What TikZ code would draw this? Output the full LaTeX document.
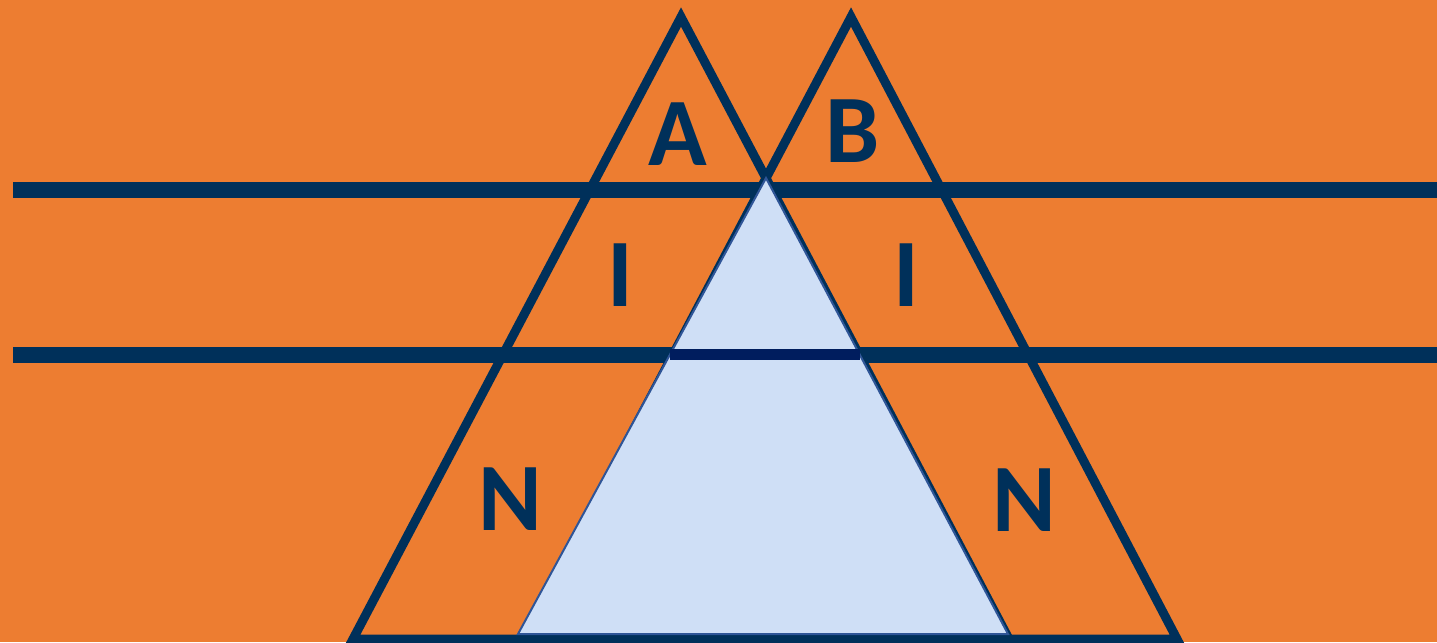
\documentclass[tikz,border=0pt]{standalone}
\usepackage{fontspec}
\setmainfont{Carlito}
\usetikzlibrary{calc}
\definecolor{bgorange}{HTML}{ED7D31}
\definecolor{linenavy}{HTML}{00305A}
\definecolor{midnavy}{HTML}{001D5E}
\definecolor{icefill}{HTML}{CFDFF6}
\definecolor{iceedge}{HTML}{2F5597}
\tikzstyle{bar} = [draw=linenavy, line width=0.16cm]
\tikzstyle{tri} = [draw=linenavy, line width=0.09cm, line join=miter]
\tikzstyle{ice} = [fill=icefill, draw=iceedge, line width=0.02cm, line join=miter]
\tikzstyle{letter} = [text=linenavy, inner sep=0pt, font=\fontsize{27.5}{30}\selectfont\bfseries]

\begin{document}
\begin{tikzpicture}[x=0.01cm, y=-0.01cm]
\useasboundingbox (0,0) rectangle (1437,642);
\clip (0,0) rectangle (1437,642);
\fill[bgorange] (0,0) rectangle (1437,642);
% corners of the two outlined triangles
\coordinate (la) at (681,17);
\coordinate (ll) at (353,639);
\coordinate (lr) at (1009,639);
\coordinate (ra) at (851,17);
\coordinate (rl) at (523,639);
\coordinate (rr) at (1177,639);
% the shared triangle in the middle
\coordinate (ia) at (766,178);
\coordinate (il) at (518,634);
\coordinate (ir) at (1008,634);
% the two rows
\draw[bar] (13,190) -- (1437,190);
\draw[bar] (13,355) -- (1437,355);
\draw[tri] (la) -- (ll) -- (lr) -- cycle;
\draw[tri] (ra) -- (rl) -- (rr) -- cycle;
\draw[ice] (ia) -- (il) -- (ir) -- cycle;
\draw[midnavy, line width=0.11cm] ($(ia)!0.388!(il)$) -- ($(ia)!0.388!(ir)$);
% letters
\node[letter] (a) at (678,134) {A};
\node[letter] (b) at (853,131) {B};
\node[letter] (il1) at (620,275) {I};
\node[letter] (il2) at (906,275) {I};
\node[letter] (n1) at (510,499) {N};
\node[letter] (n2) at (1024,500) {N};
\end{tikzpicture}
\end{document}
